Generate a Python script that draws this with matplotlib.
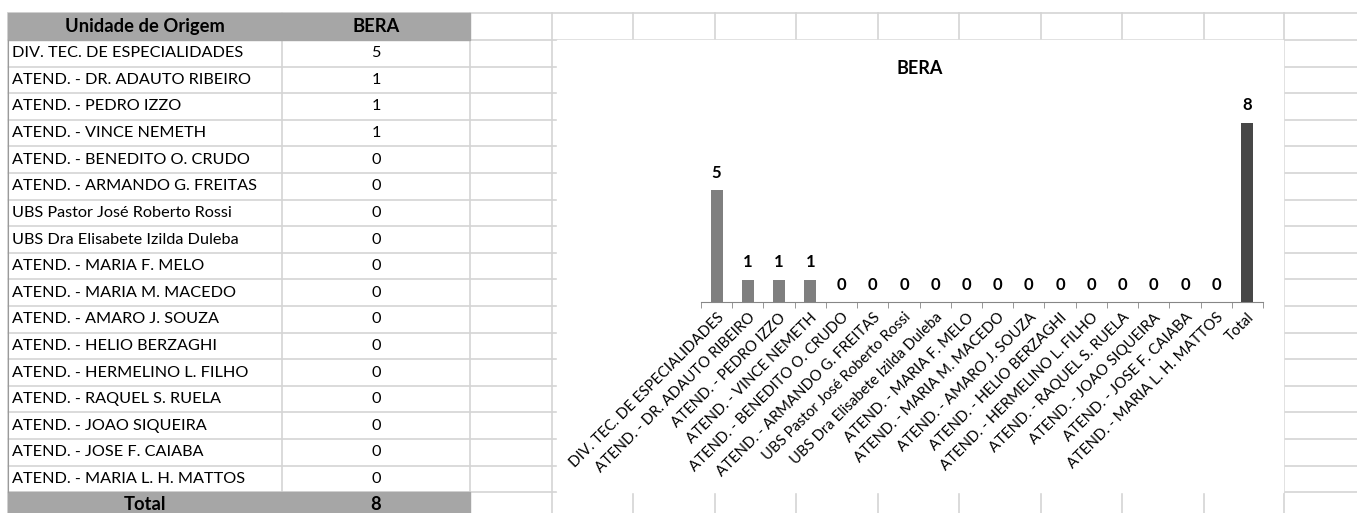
import numpy as np
import matplotlib.pyplot as plt
from matplotlib.patches import Rectangle

plt.rcParams['font.family'] = ['Lato', 'DejaVu Sans']

unidades = ['DIV. TEC. DE ESPECIALIDADES', 'ATEND. - DR. ADAUTO RIBEIRO', 'ATEND. - PEDRO IZZO',
            'ATEND. - VINCE NEMETH', 'ATEND. - BENEDITO O. CRUDO', 'ATEND. - ARMANDO G. FREITAS',
            'UBS Pastor José Roberto Rossi', 'UBS Dra Elisabete Izilda Duleba', 'ATEND. - MARIA F. MELO',
            'ATEND. - MARIA M. MACEDO', 'ATEND. - AMARO J. SOUZA', 'ATEND. - HELIO BERZAGHI',
            'ATEND. - HERMELINO L. FILHO', 'ATEND. - RAQUEL S. RUELA', 'ATEND. - JOAO SIQUEIRA',
            'ATEND. - JOSE F. CAIABA', 'ATEND. - MARIA L. H. MATTOS']
bera = [5, 1, 1, 1, 0, 0, 0, 0, 0, 0, 0, 0, 0, 0, 0, 0, 0]
total = sum(bera)

W, H = 1357, 513
fig = plt.figure(figsize=(W / 100, H / 100), dpi=100)

# fundo tipo planilha (coordenadas em pixels)
bg = fig.add_axes([0, 0, 1, 1])
bg.set_xlim(0, W)
bg.set_ylim(H, 0)
bg.axis('off')

grid_c = '#d4d4d4'
top, head_h, row_h = 13, 27, 26.6
col_x = [8, 282, 470, 552, 633, 715, 796, 878, 959, 1041, 1122, 1204, 1284]
row_y = [top] + [top + head_h + k * row_h for k in range(len(unidades) + 1)]

for y in row_y:
    bg.plot([8, W], [y, y], color=grid_c, lw=1.2, zorder=1)
for x in col_x:
    bg.plot([x, x], [top, H], color=grid_c, lw=1.2, zorder=1)

# cabecalho e total da tabela
hdr_c = '#a6a6a6'
bg.add_patch(Rectangle((8, top), 470 - 8, head_h, color=hdr_c, zorder=2))
bg.add_patch(Rectangle((8, row_y[-1]), 470 - 8, H - row_y[-1] + 2, color=hdr_c, zorder=2))
bg.plot([8, 8], [top + head_h, row_y[-1]], color='#9a9a9a', lw=0.8, zorder=3)

fs_tab = 11.7
fs_hdr = 13.2
yc = top + head_h / 2
bg.text(145, yc, 'Unidade de Origem', ha='center', va='center', fontsize=fs_hdr, fontweight='bold', zorder=4)
bg.text(376, yc, 'BERA', ha='center', va='center', fontsize=fs_hdr, fontweight='bold', zorder=4)
for i, (u, v) in enumerate(zip(unidades, bera)):
    yc = row_y[i + 1] + row_h / 2
    bg.text(12, yc, u, ha='left', va='center', fontsize=fs_tab, zorder=4)
    bg.text(376, yc, str(v), ha='center', va='center', fontsize=fs_tab, zorder=4)
yc = row_y[-1] + row_h / 2 - 1
bg.text(145, yc, 'Total', ha='center', va='center', fontsize=fs_hdr, fontweight='bold', zorder=4)
bg.text(376, yc, str(total), ha='center', va='center', fontsize=fs_hdr, fontweight='bold', zorder=4)

# area do grafico (branca, cobre a grade)
bg.add_patch(Rectangle((557, 40), 1283 - 557, 492 - 40, color='white', zorder=5))
bg.text(920, 68, 'BERA', ha='center', va='center', fontsize=13, fontweight='bold', zorder=6)

# grafico de barras
labels = unidades + ['Total']
values = bera + [total]
colors = ['#7f7f7f'] * len(bera) + ['#474747']

x0, x1, y_base, px_unit = 701, 1263, 302, 22.4
ax = fig.add_axes([x0 / W, (H - y_base) / H, (x1 - x0) / W, px_unit * 9 / H])
ax.patch.set_alpha(0)
pos = np.arange(len(labels))
ax.bar(pos, values, width=0.38, color=colors, zorder=3)
for p, v in zip(pos, values):
    ax.annotate(str(v), (p, v), xytext=(0, 12.5), textcoords='offset points',
                ha='center', va='center', fontsize=12, fontweight='bold')

ax.set_xlim(-0.5, len(labels) - 0.5)
ax.set_ylim(0, 9)
ax.set_xticks(pos)
ax.set_xticklabels(labels, rotation=45, ha='right', rotation_mode='anchor', fontsize=10.7)
ax.set_xticks(np.arange(len(labels) + 1) - 0.5, minor=True)
ax.tick_params(axis='x', which='major', length=0, pad=6)
ax.tick_params(axis='x', which='minor', length=4, color='#868686', direction='out')
ax.set_yticks([])
for s in ['left', 'right', 'top']:
    ax.spines[s].set_visible(False)
ax.spines['bottom'].set_color('#868686')
ax.set_zorder(7)

fig.savefig('out.png', dpi=100)
plt.close()
